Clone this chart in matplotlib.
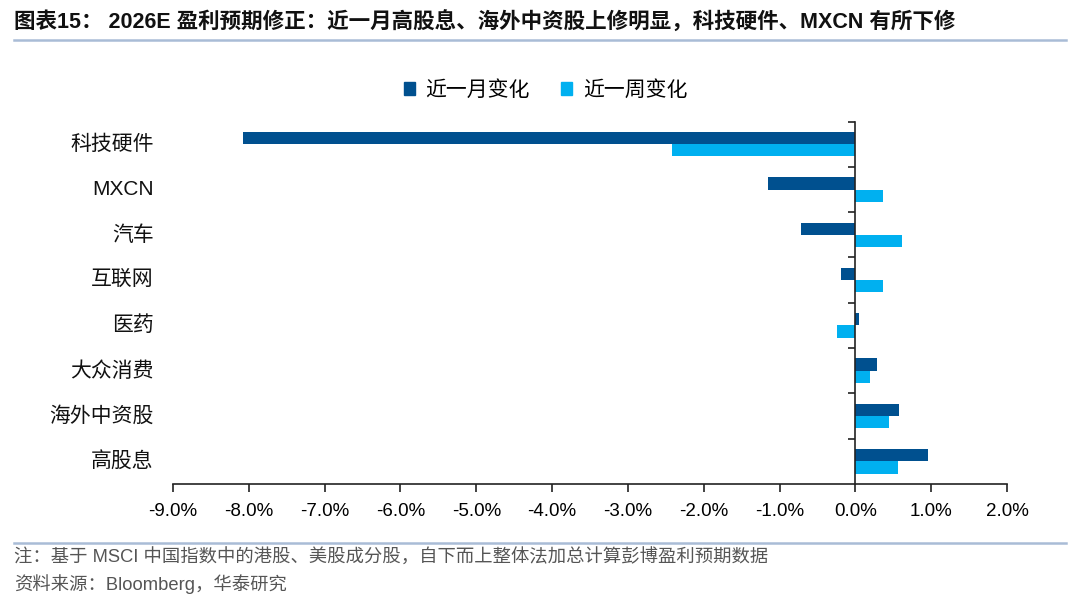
import matplotlib
matplotlib.use("Agg")
import matplotlib.pyplot as plt
import matplotlib.transforms as mtransforms
from matplotlib.lines import Line2D
from matplotlib.patches import Patch
import numpy as np

categories = ["科技硬件", "MXCN", "汽车", "互联网", "医药", "大众消费", "海外中资股", "高股息"]
month_change = [-8.08, -1.15, -0.72, -0.19, 0.05, 0.28, 0.58, 0.96]
week_change = [-2.42, 0.36, 0.61, 0.37, -0.24, 0.19, 0.45, 0.56]
series_names = ["近一月变化", "近一周变化"]
xticks = [-9, -8, -7, -6, -5, -4, -3, -2, -1, 0, 1, 2]

title = "图表15： 2026E 盈利预期修正：近一月高股息、海外中资股上修明显，科技硬件、MXCN 有所下修"
note1 = "注：基于 MSCI 中国指数中的港股、美股成分股，自下而上整体法加总计算彭博盈利预期数据"
note2 = "资料来源：Bloomberg，华泰研究"

FAM = ["Liberation Sans", "Noto Sans CJK SC", "DejaVu Sans"]
plt.rcParams["font.family"] = FAM

c_month = "#00508F"
c_week = "#00B0F0"
line_c = "#A9BCD6"

fig = plt.figure(figsize=(10.8, 6.08), dpi=100)
ax = fig.add_axes([0.1602, 0.204, 0.7722, 0.596])

n = len(categories)
ypos = np.arange(n)[::-1]  # top category first
h = 0.27
ax.barh(ypos + h / 2, month_change, height=h, color=c_month, label=series_names[0])
ax.barh(ypos - h / 2, week_change, height=h, color=c_week, label=series_names[1])

ax.set_xlim(-9, 2)
ax.set_ylim(-0.5, n - 0.5)
ax.set_xticks(xticks)
ax.set_xticklabels([f"{v:.1f}%" for v in xticks], fontsize=13.5)
ax.tick_params(axis="x", length=6, width=1.2, color="#222222", pad=8)

ax.spines["top"].set_visible(False)
ax.spines["right"].set_visible(False)
ax.spines["left"].set_position(("data", 0))
ax.spines["left"].set_linewidth(1.2)
ax.spines["bottom"].set_linewidth(1.2)
ax.spines["left"].set_color("#222222")
ax.spines["bottom"].set_color("#222222")
ax.set_yticks(np.arange(n) + 0.5)
ax.set_yticklabels([])
ax.tick_params(axis="y", length=5, width=1.2, color="#222222")

trans = mtransforms.blended_transform_factory(ax.transAxes, ax.transData)
for cat, y in zip(categories, ypos):
    ax.text(-0.023, y, cat, transform=trans, ha="right", va="center", fontsize=15, color="#111111")

handles = [Patch(color=c_month), Patch(color=c_week)]
fig.legend(handles, series_names, loc="center", bbox_to_anchor=(0.505, 0.852), ncol=2,
           frameon=False, fontsize=15, handlelength=0.55, handleheight=0.55,
           handletextpad=0.5, columnspacing=1.5)

fig.text(0.013, 0.963, title, fontsize=15.5, fontweight="bold", ha="left", va="center", color="#111111")
fig.add_artist(Line2D([0.013, 0.987], [0.934, 0.934], transform=fig.transFigure, color=line_c, lw=1.8))
fig.add_artist(Line2D([0.013, 0.987], [0.107, 0.107], transform=fig.transFigure, color=line_c, lw=1.8))
fig.text(0.013, 0.082, note1, fontsize=13.2, ha="left", va="center", color="#555555")
fig.text(0.013, 0.040, note2, fontsize=13.2, ha="left", va="center", color="#555555")

fig.savefig("out.png", dpi=100)
